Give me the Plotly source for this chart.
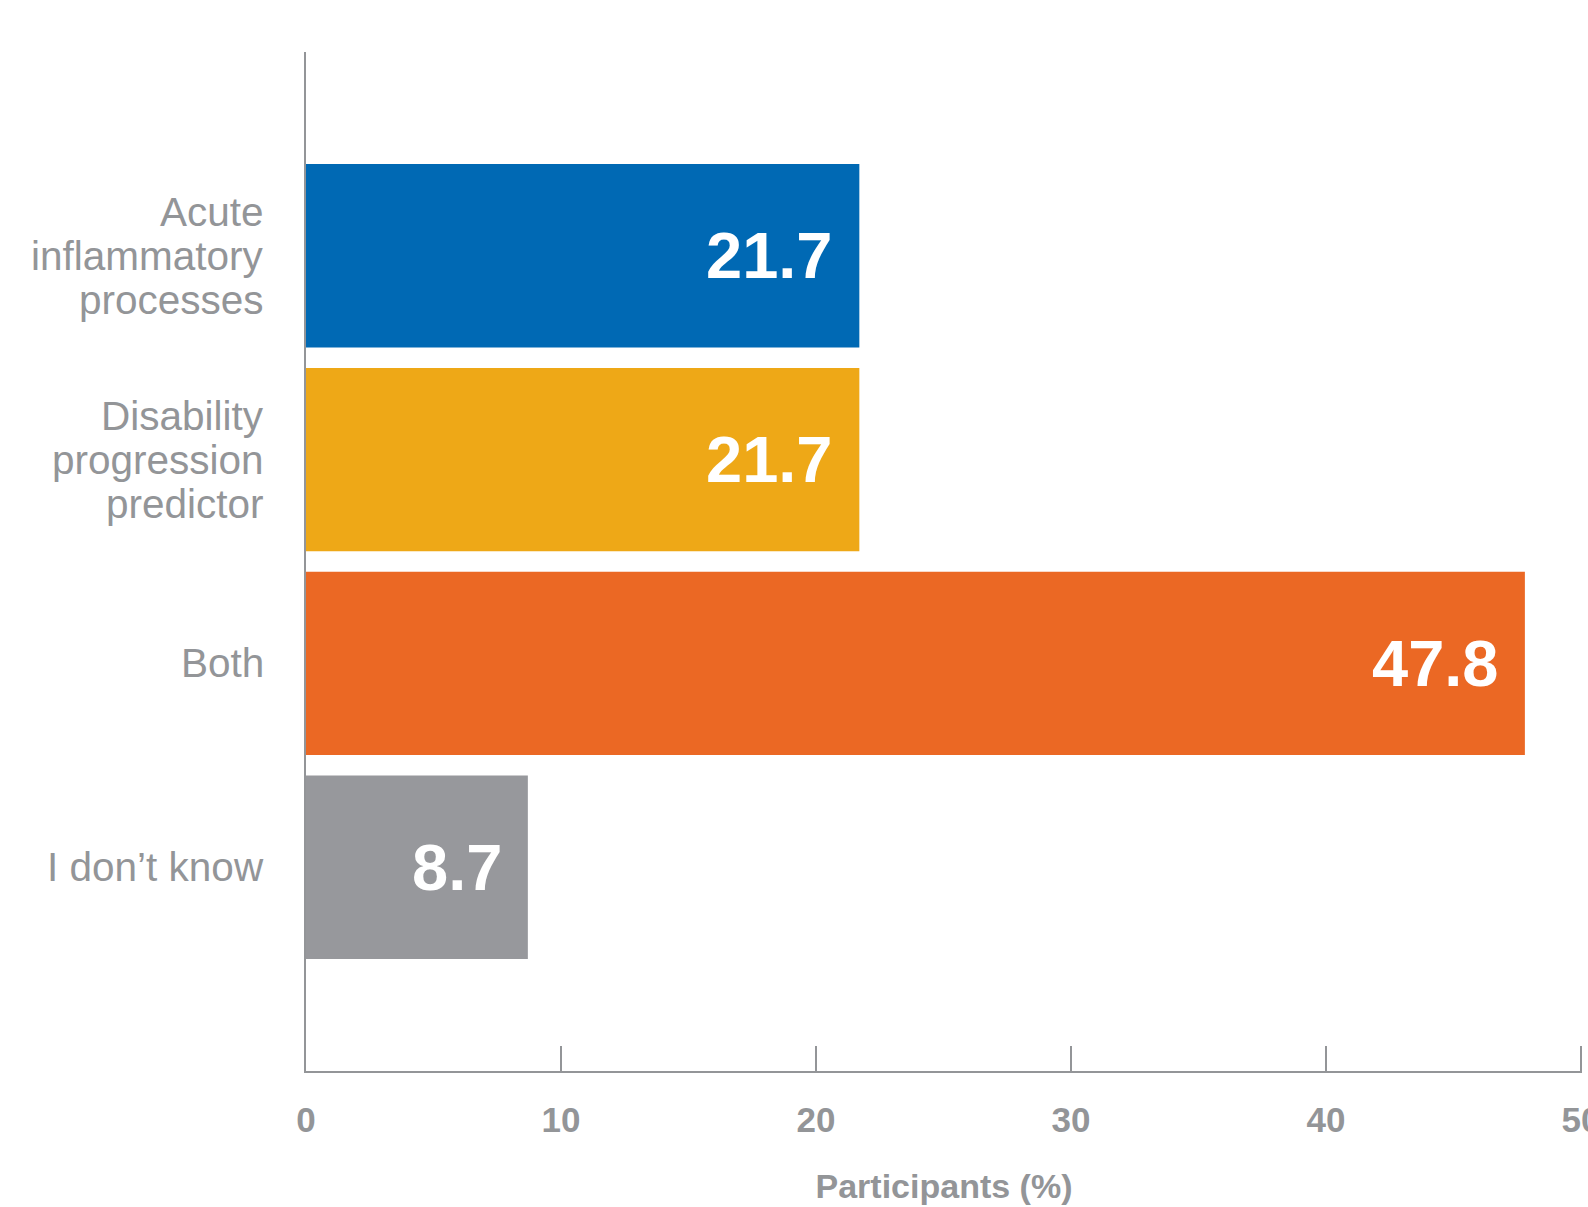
import plotly.graph_objects as go

# Survey responses: share of participants (%)
categories = ["Acute inflammatory processes", "Disability progression predictor", "Both", "I don\u2019t know"]
label_lines = [["Acute", "inflammatory", "processes"], ["Disability", "progression", "predictor"], ["Both"], ["I don\u2019t know"]]
values = [21.7, 21.7, 47.8, 8.7]
bar_colors = ["#0069B4", "#EEA817", "#EB6824", "#97989C"]
x_ticks = [0, 10, 20, 30, 40, 50]

GRAY = "#939598"
FONT = "Liberation Sans, Arial, sans-serif"

fig = go.Figure(
    go.Bar(
        x=values,
        y=categories,
        orientation="h",
        width=0.9,
        marker=dict(color=bar_colors, line=dict(width=0)),
        hoverinfo="skip",
    )
)

annotations = []
# value labels inside the bar ends
for cat, v in zip(categories, values):
    annotations.append(dict(
        x=v, y=cat, xref="x", yref="y", text=f"{v:.1f}", showarrow=False,
        xanchor="right", yanchor="middle", xshift=-24, yshift=0,
        font=dict(family=FONT, size=65, color="white", weight="bold"),
    ))

# category labels, one annotation per line for tight leading
LINE_STEP = 44
for cat, lines in zip(categories, label_lines):
    n = len(lines)
    for i, line in enumerate(lines):
        annotations.append(dict(
            x=0, y=cat, xref="paper", yref="y", text=line, showarrow=False,
            xanchor="right", yanchor="middle", xshift=-40,
            yshift=((n - 1) / 2 - i) * LINE_STEP,
            font=dict(family=FONT, size=40.5, color=GRAY),
        ))

fig.update_layout(
    width=1588,
    height=1207,
    template="none",
    paper_bgcolor="white",
    plot_bgcolor="white",
    showlegend=False,
    margin=dict(l=306, r=6, t=52, b=136, autoexpand=False),
    bargap=0.1,
    annotations=annotations,
    xaxis=dict(
        range=[0, 50.04],
        tickvals=x_ticks,
        ticktext=[str(t) for t in x_ticks],
        ticks="inside",
        ticklen=25,
        tickwidth=2,
        tickcolor=GRAY,
        showline=True,
        linecolor=GRAY,
        linewidth=2,
        showgrid=False,
        zeroline=False,
        automargin=False,
        ticklabeloverflow="allow",
        ticklabelstandoff=17,
        tickfont=dict(family=FONT, size=35, color=GRAY, weight="bold"),
        title=dict(text="Participants (%)", standoff=36,
                   font=dict(family=FONT, size=34, color=GRAY, weight="bold")),
    ),
    yaxis=dict(
        type="category",
        categoryorder="array",
        categoryarray=categories,
        range=[4, -1],
        showticklabels=False,
        ticks="",
        showline=True,
        linecolor=GRAY,
        linewidth=2,
        showgrid=False,
        zeroline=False,
        automargin=False,
    ),
)

fig.write_html("out.html")
